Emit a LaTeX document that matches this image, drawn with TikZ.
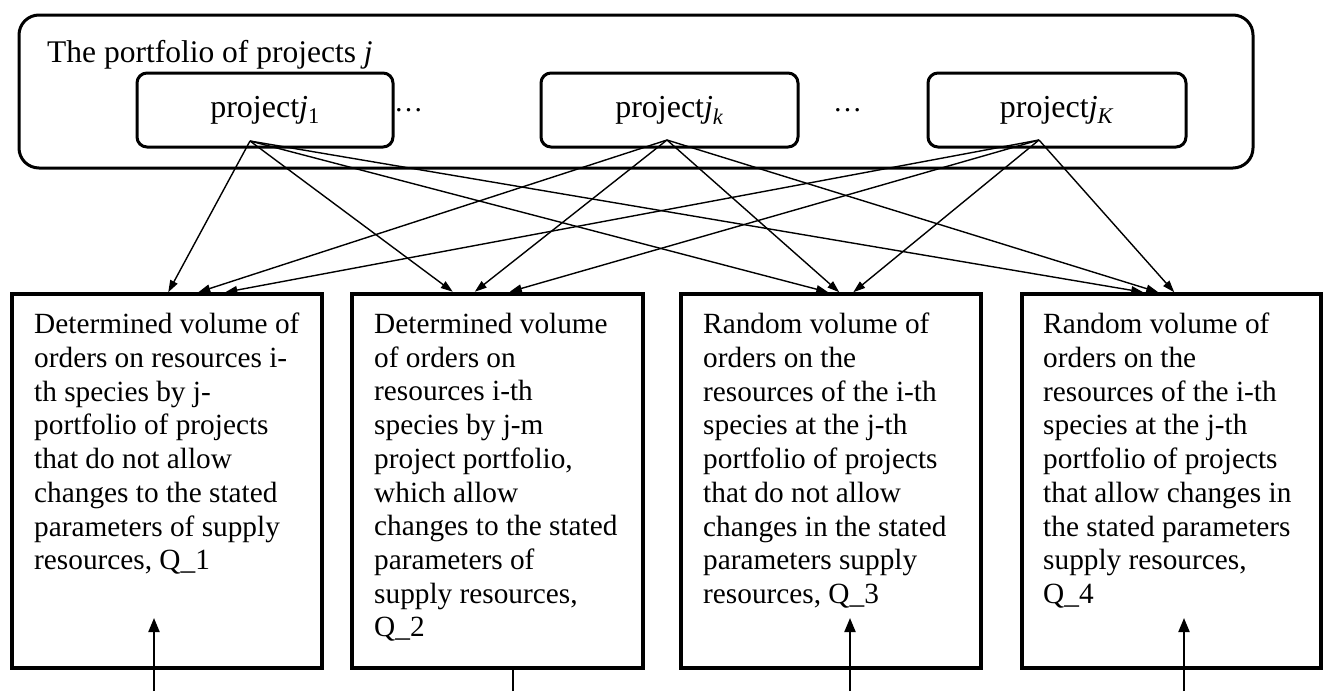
\documentclass[tikz,border=0pt]{standalone}
\usepackage{fontspec}
\setmainfont{Liberation Serif}
\usetikzlibrary{arrows.meta,calc}
\begin{document}
\begin{tikzpicture}[x=1pt,y=-1pt,
  frame/.style={draw,line width=3pt,rounded corners=20pt,inner sep=0pt},
  projbox/.style={draw,line width=3pt,rounded corners=10pt,inner sep=0pt,minimum height=74pt,font=\fontsize{32}{36}\selectfont},
  outbox/.style={draw,line width=3.5pt,inner sep=0pt,minimum height=374pt},
  boxtext/.style={anchor=north west,align=left,inner sep=0pt,font=\fontsize{29.3}{33.7}\selectfont},
  link/.style={line width=1.4pt,-{Triangle[length=12pt,width=8pt]}},
  uplink/.style={line width=2pt,-{Triangle[length=14pt,width=11pt]}},
]
\useasboundingbox (0,0) rectangle (1325,691);

% portfolio frame
\node[frame,minimum width=1234pt,minimum height=153pt] (port) at (636,91.5) {};
\node[anchor=base west,inner sep=0pt,font=\fontsize{31.5}{36}\selectfont] (title) at (47,62) {The portfolio of projects \textit{j}};

% projects
\node[projbox,minimum width=256pt] (p1) at (265,110) {project\textit{j}\textsubscript{1}};
\node[projbox,minimum width=257pt] (p2) at (669.5,110) {project\textit{j}\textsubscript{\textit{k}}};
\node[projbox,minimum width=258pt] (p3) at (1057,110) {project\textit{j}\textsubscript{\textit{K}}};
\node[anchor=base west,inner sep=0pt,font=\fontsize{29}{33}\selectfont] (d1) at (394,111) {\ldots};
\node[anchor=base west,inner sep=0pt,font=\fontsize{29}{33}\selectfont] (d2) at (833,111) {\ldots};

% bottom boxes
\node[outbox,minimum width=310pt] (b1) at (167,481) {};
\node[outbox,minimum width=291pt,line width=4.5pt] (b2) at (497.5,481) {};
\node[outbox,minimum width=300pt] (b3) at (831,481) {};
\node[outbox,minimum width=299pt] (b4) at (1171.5,481) {};

\node[boxtext] (t1) at (34,313) {Determined volume of\\orders on resources i-\\th species by j-\\portfolio of projects\\that do not allow\\changes to the stated\\parameters of supply\\resources, Q\_1};
\node[boxtext] (t2) at (374,313) {Determined volume\\of orders on\\resources i-th\\species by j-m\\project portfolio,\\which allow\\changes to the stated\\parameters of\\supply resources,\\Q\_2};
\node[boxtext] (t3) at (703,313) {Random volume of\\orders on the\\resources of the i-th\\species at the j-th\\portfolio of projects\\that do not allow\\changes in the stated\\parameters supply\\resources, Q\_3};
\node[boxtext] (t4) at (1043,313) {Random volume of\\orders on the\\resources of the i-th\\species at the j-th\\portfolio of projects\\that allow changes in\\the stated parameters\\supply resources,\\Q\_4};

% connectors from projects
\coordinate (s1) at (250,141);
\coordinate (s2) at (667,140);
\coordinate (s3) at (1039,140);

\draw[link] (s1) -- ($(b1.north west)+(158,0)$);
\draw[link] (s2) -- ($(b1.north west)+(188,0)$);
\draw[link] (s3) -- ($(b1.north west)+(215,0)$);

\draw[link] (s1) -- ($(b2.north west)+(103,0)$);
\draw[link] (s2) -- ($(b2.north west)+(125,0)$);
\draw[link] (s3) -- ($(b2.north west)+(160,0)$);

\draw[link] (s1) -- ($(b3.north west)+(149,0)$);
\draw[link] (s2) -- ($(b3.north west)+(160,0)$);
\draw[link] (s3) -- ($(b3.north west)+(174,0)$);

\draw[link] (s1) -- ($(b4.north west)+(123,0)$);
\draw[link] (s2) -- ($(b4.north west)+(138,0)$);
\draw[link] (s3) -- ($(b4.north west)+(154,0)$);

% bottom inputs
\coordinate (u1) at (154,691);
\coordinate (v1) at (154,618);
\coordinate (u2) at (513,691);
\coordinate (u3) at (850,691);
\coordinate (v3) at (850,618);
\coordinate (u4) at (1184,691);
\coordinate (v4) at (1184,618);
\draw[uplink] (u1) -- (v1);
\draw[line width=2pt] (u2) -- (b2.south -| u2);
\draw[uplink] (u3) -- (v3);
\draw[uplink] (u4) -- (v4);
\end{tikzpicture}
\end{document}
